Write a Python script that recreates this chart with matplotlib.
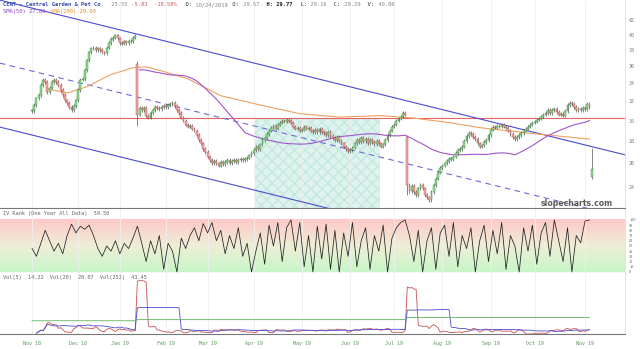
import numpy as np
import pandas as pd
import matplotlib
matplotlib.use("Agg")
import matplotlib.pyplot as plt
from matplotlib.patches import Rectangle
from matplotlib.colors import LinearSegmentedColormap
from matplotlib.ticker import FixedLocator, NullLocator

# ---------------- data ----------------
closes = [
    31.0, 31.6, 32.3, 32.7, 33.8, 34.4, 34.1, 33.0, 33.5, 34.1,
    34.4, 34.1, 33.8, 33.2, 32.7, 32.1, 31.8, 31.4, 31.1, 31.5,
    32.1, 33.2, 34.4, 34.5, 35.5, 36.7, 37.7, 38.2, 38.3, 38.0,
    38.2, 38.0, 37.7, 37.6, 38.3, 38.9, 39.4, 39.6, 39.9, 39.5,
    38.9, 38.8, 39.1, 38.9, 39.2, 39.1, 39.6, 39.8, 30.6, 31.3,
    31.1, 31.3, 30.5, 30.3, 30.8, 31.1, 31.4, 31.3, 31.2, 31.4,
    31.5, 31.4, 31.6, 31.7, 31.8, 31.5, 31.1, 30.8, 30.3, 30.0,
    29.6, 29.4, 29.5, 29.2, 29.0, 28.6, 28.1, 27.8, 27.3, 27.0,
    26.6, 26.3, 26.0, 26.2, 26.0, 25.8, 26.1, 25.9, 26.1, 26.3,
    26.0, 26.2, 26.3, 26.1, 26.3, 26.4, 26.3, 26.4, 26.5, 26.7,
    26.9, 27.2, 27.5, 27.3, 27.7, 28.1, 28.3, 28.7, 29.0, 29.3,
    29.5, 29.2, 29.6, 29.8, 30.0, 29.9, 30.1, 30.0, 29.8, 29.4,
    29.2, 29.3, 29.0, 29.1, 29.4, 29.2, 29.3, 29.0, 28.9, 29.1,
    28.9, 29.2, 28.9, 28.8, 28.6, 28.9, 28.5, 28.3, 28.1, 28.4,
    28.0, 27.8, 27.5, 27.3, 27.1, 27.2, 27.4, 27.8, 28.1, 27.9,
    28.3, 28.0, 28.2, 27.8, 28.1, 27.9, 27.7, 28.0, 27.8, 27.5,
    27.7, 28.1, 28.6, 29.0, 29.4, 29.6, 30.0, 30.2, 30.4, 30.8,
    30.6, 24.2, 23.7, 24.1, 23.6, 23.4, 23.9, 24.2, 23.9, 23.4,
    23.2, 23.0, 23.6, 24.2, 24.7, 25.2, 25.6, 25.8, 26.0, 26.2,
    26.4, 26.4, 26.6, 26.9, 27.2, 27.3, 27.5, 28.0, 28.5, 28.8,
    28.7, 28.4, 28.2, 27.8, 27.5, 27.6, 27.9, 28.1, 28.6, 29.1,
    29.4, 29.3, 29.5, 29.4, 29.6, 29.4, 29.3, 29.0, 28.7, 28.4,
    28.2, 28.4, 28.6, 28.8, 29.0, 29.2, 29.4, 29.6, 29.8, 29.9,
    30.1, 30.2, 30.4, 30.6, 30.8, 31.1, 30.8, 31.1, 31.2, 30.9,
    30.6, 30.7, 30.5, 31.0, 31.6, 31.8, 31.7, 31.4, 31.1, 31.2,
    31.1, 31.3, 31.2, 31.7, 31.38, 25.55,
]
gap_opens = {48: 36.3, 171: 28.4, 255: 24.8}
wick_extremes = {48: (36.6, 29.5), 171: (28.5, 23.4), 255: (27.4, 24.7)}

sma200_idx = [7, 16, 25, 36, 46, 52, 58, 71, 80, 86, 104, 122, 140, 159, 174, 190, 204, 227, 254]
sma200_val = [33.35, 32.9, 33.6, 35.0, 35.8, 35.9, 35.5, 34.5, 33.35, 32.6, 31.6, 30.7,
              30.35, 30.5, 30.25, 29.8, 29.3, 28.75, 28.2]

support_level = 30.24
channel_x = [-14.6, 270.2]
channel_upper = [44.88, 26.75]
channel_mid = [36.36, 21.68]
channel_lower = [29.35, 17.49]

# IV rank, one value every second trading day
iv_rank = [
    45, 30, 55, 80, 60, 40, 55, 35, 70, 92,
    75, 88, 82, 90, 70, 45, 30, 50, 40, 60,
    35, 55, 45, 65, 88, 55, 20, 60, 35, 70,
    5, 55, 40, 0, 65, 45, 70, 85, 60, 93,
    75, 95, 60, 80, 35, 70, 45, 85, 30, 55,
    0, 40, 75, 15, 90, 50, 95, 20, 85, 100,
    40, 95, 10, 70, 0, 88, 25, 92, 5, 80,
    0, 75, 30, 95, 10, 60, 85, 5, 70, 40,
    90, 0, 65, 85, 95, 100, 70, 20, 80, 0,
    60, 85, 5, 75, 90, 30, 95, 10, 70, 45,
    85, 0, 60, 90, 20, 80, 35, 95, 5, 70,
    50, 0, 85, 40, 90, 15, 75, 95, 30, 100,
    60, 20, 85, 0, 70, 56, 98, 100,
]

vol252_idx = [0, 47, 48, 170, 171, 254]
vol252_val = [48, 48, 52, 52, 60, 60]

month_idx = [0, 21, 40, 61, 80, 101, 123, 145, 165, 187, 209, 229, 252]
month_labels = ["Nov 18", "Dec 18", "Jan 19", "Feb 19", "Mar 19", "Apr 19", "May 19",
                "Jun 19", "Jul 19", "Aug 19", "Sep 19", "Oct 19", "Nov 19"]
price_ticks = [42, 40, 38, 36, 34, 32, 30, 28, 26, 24]
iv_ticks = [0, 10, 20, 30, 40, 50, 60, 70, 80, 90, 100]

# ---------------- derived ----------------
n = len(closes)
idx = np.arange(n)
opens = [closes[0]] + closes[:-1]
for k, v in gap_opens.items():
    opens[k] = v
highs = [max(o, c) * 1.006 for o, c in zip(opens, closes)]
lows = [min(o, c) * 0.994 for o, c in zip(opens, closes)]
for k, (h, l) in wick_extremes.items():
    highs[k], lows[k] = h, l

hist = pd.Series(closes[:-1])
sma50 = hist.rolling(50).mean()
rets = pd.Series(np.diff(np.log(closes[:-1])))
vol5 = rets.rolling(5, min_periods=2).std() * np.sqrt(252) * 100
vol20 = rets.rolling(20, min_periods=2).std() * np.sqrt(252) * 100

# ---------------- figure ----------------
W, H = 640, 349
fig = plt.figure(figsize=(6.4, 3.49), dpi=100)
right = 625 / W
ax = fig.add_axes([0, 1 - 208 / H, right, 208 / H])
ax_iv = fig.add_axes([0, 1 - 273 / H, right, 64 / H])
ax_v = fig.add_axes([0, 1 - 334 / H, right, 61 / H])

xlim = (-14.6, 270.2)
for a in (ax, ax_iv, ax_v):
    a.set_xlim(*xlim)
    a.set_facecolor("white")
    for s in ("top", "left"):
        a.spines[s].set_visible(False)
    a.spines["right"].set_color("#dddddd")
    a.spines["right"].set_linewidth(0.6)
    a.spines["bottom"].set_color("#777777")
    a.spines["bottom"].set_linewidth(0.8)
    a.xaxis.set_major_locator(FixedLocator(month_idx))
    a.grid(axis="x", color="#f0f0f0", linewidth=0.6, zorder=0)
    a.tick_params(axis="both", length=0)
    a.set_xticklabels([])
    a.yaxis.tick_right()

# ---- main price panel ----
ax.set_yscale("log")
ax.set_ylim(22.39, 44.91)
ax.yaxis.set_major_locator(FixedLocator(price_ticks))
ax.yaxis.set_minor_locator(NullLocator())
ax.set_yticklabels([str(t) for t in price_ticks], fontsize=3.6, color="#777777",
                   family="DejaVu Sans Mono")
ax.tick_params(axis="y", pad=3)

# shaded pattern zone
rect = Rectangle((101.6, 22.39), 57.0, support_level - 22.39, facecolor="#d8f1ea",
                 edgecolor="#bfe6db", hatch="xxx", linewidth=0, alpha=0.8, zorder=1)
ax.add_patch(rect)

ax.axhline(support_level, color="#e06464", linewidth=0.8, zorder=2)
ax.plot(channel_x, channel_upper, color="#4b4bcf", linewidth=0.8, zorder=2)
ax.plot(channel_x, channel_mid, color="#6b6bd6", linewidth=0.8, linestyle=(0, (5, 4)), zorder=2)
ax.plot(channel_x, channel_lower, color="#4b4bcf", linewidth=0.8, zorder=2)

ax.plot(sma200_idx, sma200_val, color="#f0a060", linewidth=0.8, zorder=3)
ax.plot(idx[:-1], sma50, color="#a055cc", linewidth=0.8, zorder=3)

up = [c >= o for o, c in zip(opens, closes)]
ax.vlines(idx, lows, highs, color="#555555", linewidth=0.5, zorder=4)
bottoms = [min(o, c) for o, c in zip(opens, closes)]
heights = [max(abs(c - o), 0.06) for o, c in zip(opens, closes)]
face = ["#8fe48f" if u else "#f4a8a8" for u in up]
edge = ["#3a7a3a" if u else "#b04a4a" for u in up]
ax.bar(idx, heights, bottom=bottoms, width=0.85, color=face, edgecolor=edge,
       linewidth=0.3, zorder=5)

ax.text(577 / 625, 1 - 203 / 208, "slopecharts.com", transform=ax.transAxes,
        ha="center", va="center", fontsize=5.6, fontweight="bold", color="#5a5a5a", zorder=6)

# header texts
mono = "DejaVu Sans Mono"
cw = 3.38  # px per char


def seg_line(py, segs, fs=4.0):
    col = 0
    for s, color, wt in segs:
        fig.text((3 + col * cw) / W, 1 - py / H, s, ha="left", va="center",
                 fontsize=fs, color=color, family=mono, fontweight=wt)
        col += len(s)


seg_line(5, [("CENT - Central Garden & Pet Co.", "#3a50b0", "bold"),
             (" 25.55", "#888888", "normal"),
             (" -5.83  -18.58%", "#e05050", "normal"),
             ("  D:", "#333333", "normal"), (" 10/24/2019", "#888888", "normal"),
             (" O:", "#333333", "normal"), (" 29.57", "#888888", "normal"),
             ("  H:", "#222222", "bold"), (" 29.77", "#222222", "bold"),
             ("  L:", "#333333", "normal"), (" 29.16", "#888888", "normal"),
             ("  C:", "#333333", "normal"), (" 29.29", "#888888", "normal"),
             ("  V:", "#333333", "normal"), (" 40.86", "#888888", "normal")])
seg_line(12, [("SMA(50) 27.89", "#9040c0", "normal"),
              (" SMA(200) 29.00", "#e09020", "normal")])

# ---- IV rank panel ----
ax_iv.set_ylim(-2, 121)
cmap = LinearSegmentedColormap.from_list("ivg", ["#c8f6c8", "#eeeed6", "#ffc8c8"])
grad = np.linspace(0, 1, 200).reshape(-1, 1)
ax_iv.imshow(grad, cmap=cmap, extent=[xlim[0], xlim[1], 0, 100], origin="lower",
             aspect="auto", zorder=0)
ax_iv.set_xlim(*xlim)
ax_iv.plot(idx[::2][:len(iv_rank)], iv_rank, color="#222222", linewidth=0.55, zorder=3)
ax_iv.yaxis.set_major_locator(FixedLocator(iv_ticks))
ax_iv.set_yticklabels([str(t) for t in iv_ticks], fontsize=2.6, color="#777777", family=mono)
ax_iv.tick_params(axis="y", pad=3)
seg_line(214, [("IV Rank (One Year All Data)  59.50", "#666666", "normal")], fs=3.8)

# ---- volatility panel ----
ax_v.set_ylim(0, 221)
ax_v.set_yticks([])
ax_v.plot(idx[1:-1], vol5, color="#c85050", linewidth=0.6, zorder=3)
ax_v.plot(idx[1:-1], vol20, color="#4b4bcf", linewidth=0.6, zorder=3)
ax_v.plot(vol252_idx, vol252_val, color="#60b060", linewidth=0.6, zorder=3)
seg_line(278, [("Vol(5)  14.22  Vol(20)  20.07  Vol(252)  43.45", "#666666", "normal")], fs=3.8)

ax_v.set_xticklabels(month_labels, fontsize=3.6, color="#5a9a5a", family=mono)
ax_v.tick_params(axis="x", pad=5)

fig.savefig("out.png", dpi=100, facecolor="white")
